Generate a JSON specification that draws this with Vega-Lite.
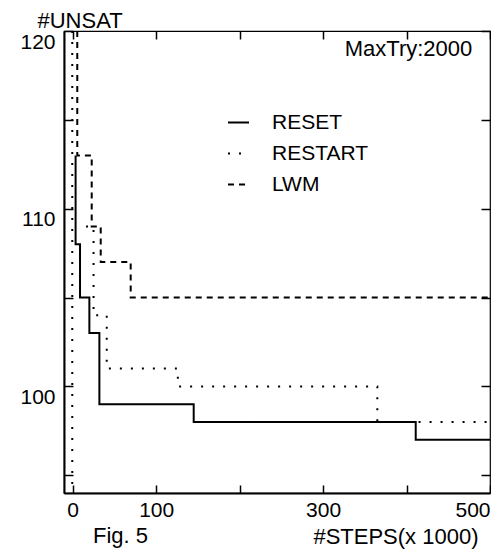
{
  "$schema": "https://vega.github.io/schema/vega-lite/v6.json",
  "width": 426,
  "height": 462,
  "autosize": {"type": "none"},
  "padding": {"left": 64, "top": 31, "right": 1, "bottom": 62},
  "background": "white",
  "config": {
    "font": "Liberation Sans",
    "view": {"stroke": "black", "strokeWidth": 1.2},
    "axis": {
      "grid": false,
      "labelFont": "Liberation Sans",
      "labelFontSize": 21,
      "labelColor": "black",
      "tickColor": "black",
      "domainColor": "black",
      "titleColor": "black",
      "titleFont": "Liberation Sans",
      "titleFontWeight": "normal",
      "titleFontSize": 22
    }
  },
  "title": {
    "text": "Fig. 5",
    "orient": "bottom",
    "anchor": "start",
    "frame": "group",
    "dx": 29,
    "offset": -4,
    "fontSize": 22,
    "fontWeight": "normal",
    "font": "Liberation Sans",
    "color": "black",
    "baseline": "alphabetic"
  },
  "datasets": {
    "lines": [
      {"series": "RESET", "seg": "a", "i": 0, "steps": 3.5, "unsat": 113},
      {"series": "RESET", "seg": "a", "i": 1, "steps": 3.5, "unsat": 108},
      {"series": "RESET", "seg": "a", "i": 2, "steps": 8.8, "unsat": 105},
      {"series": "RESET", "seg": "a", "i": 3, "steps": 20, "unsat": 103},
      {"series": "RESET", "seg": "a", "i": 4, "steps": 32, "unsat": 99},
      {"series": "RESET", "seg": "a", "i": 5, "steps": 145, "unsat": 98},
      {"series": "RESET", "seg": "a", "i": 6, "steps": 411, "unsat": 97},
      {"series": "RESET", "seg": "a", "i": 7, "steps": 500, "unsat": 97},
      {"series": "RESTART", "seg": "b1", "i": 0, "steps": -0.5, "unsat": 120},
      {"series": "RESTART", "seg": "b1", "i": 1, "steps": -0.5, "unsat": 94},
      {"series": "RESTART", "seg": "b2", "i": 0, "steps": 16, "unsat": 109},
      {"series": "RESTART", "seg": "b2", "i": 1, "steps": 25, "unsat": 104},
      {"series": "RESTART", "seg": "b2", "i": 2, "steps": 40.8, "unsat": 101},
      {"series": "RESTART", "seg": "b2", "i": 3, "steps": 126, "unsat": 100},
      {"series": "RESTART", "seg": "b2", "i": 4, "steps": 365, "unsat": 98},
      {"series": "RESTART", "seg": "b2", "i": 5, "steps": 500, "unsat": 98},
      {"series": "LWM", "seg": "c", "i": 0, "steps": 5.5, "unsat": 120},
      {"series": "LWM", "seg": "c", "i": 1, "steps": 5.5, "unsat": 113},
      {"series": "LWM", "seg": "c", "i": 2, "steps": 22.8, "unsat": 109},
      {"series": "LWM", "seg": "c", "i": 3, "steps": 33.6, "unsat": 107},
      {"series": "LWM", "seg": "c", "i": 4, "steps": 69.5, "unsat": 105},
      {"series": "LWM", "seg": "c", "i": 5, "steps": 500, "unsat": 105}
    ],
    "notes": [{"label": "MaxTry:2000"}]
  },
  "layer": [
    {
      "data": {"name": "lines"},
      "mark": {"type": "line", "interpolate": "step-after", "color": "black", "strokeWidth": 2},
      "encoding": {
        "x": {
          "field": "steps",
          "type": "quantitative",
          "scale": {"domain": [-10.4, 500], "nice": false, "zero": false},
          "axis": {
            "orient": "bottom",
            "values": [0, 100, 200, 300, 400, 500],
            "labelExpr": "datum.value == 200 || datum.value == 400 ? '' : datum.label",
            "tickSize": -8,
            "tickWidth": 1.5,
            "labelPadding": 14,
            "labelFlush": true,
            "domainWidth": 2,
            "title": "#STEPS(x 1000)",
            "titleX": 414,
            "titleY": 50,
            "titleAlign": "right",
            "titleBaseline": "alphabetic"
          }
        },
        "y": {
          "field": "unsat",
          "type": "quantitative",
          "scale": {"domain": [94, 120], "nice": false, "zero": false},
          "axis": {
            "orient": "left",
            "values": [95, 100, 105, 110, 115, 120],
            "labelExpr": "datum.value % 10 == 0 ? datum.label : ''",
            "tickSize": -9,
            "tickWidth": 1.5,
            "labelPadding": 18,
            "labelBaseline": "top",
            "domainWidth": 2,
            "title": "#UNSAT",
            "titleAngle": 0,
            "titleX": -27,
            "titleY": -4,
            "titleAlign": "left",
            "titleBaseline": "alphabetic"
          }
        },
        "strokeDash": {
          "field": "series",
          "type": "nominal",
          "scale": {"domain": ["RESET", "RESTART", "LWM"], "range": [[1, 0], [2, 9], [6, 5]]},
          "legend": {
            "orient": "none",
            "legendX": 163,
            "legendY": 80,
            "title": null,
            "symbolType": "stroke",
            "symbolSize": 441,
            "symbolStrokeWidth": 2,
            "symbolStrokeColor": "black",
            "labelFontSize": 21,
            "labelFont": "Liberation Sans",
            "labelColor": "black",
            "labelOffset": 22,
            "rowPadding": 9,
            "padding": 0
          }
        },
        "detail": {"field": "seg"},
        "order": {"field": "i", "type": "quantitative"}
      }
    },
    {
      "data": {"name": "notes"},
      "mark": {"type": "text", "align": "right", "baseline": "alphabetic", "fontSize": 22, "font": "Liberation Sans", "color": "black"},
      "encoding": {
        "x": {
          "datum": 478.8,
          "type": "quantitative",
          "axis": {"orient": "top", "values": [0, 100, 200, 300, 400, 500], "labels": false, "tickSize": -8, "tickWidth": 1.5, "domain": false, "title": null}
        },
        "y": {
          "datum": 118.6,
          "type": "quantitative",
          "axis": {"orient": "right", "values": [95, 100, 105, 110, 115, 120], "labels": false, "tickSize": -9, "tickWidth": 1.5, "domain": false, "title": null}
        },
        "text": {"field": "label"}
      }
    }
  ],
  "resolve": {"axis": {"x": "independent", "y": "independent"}}
}
